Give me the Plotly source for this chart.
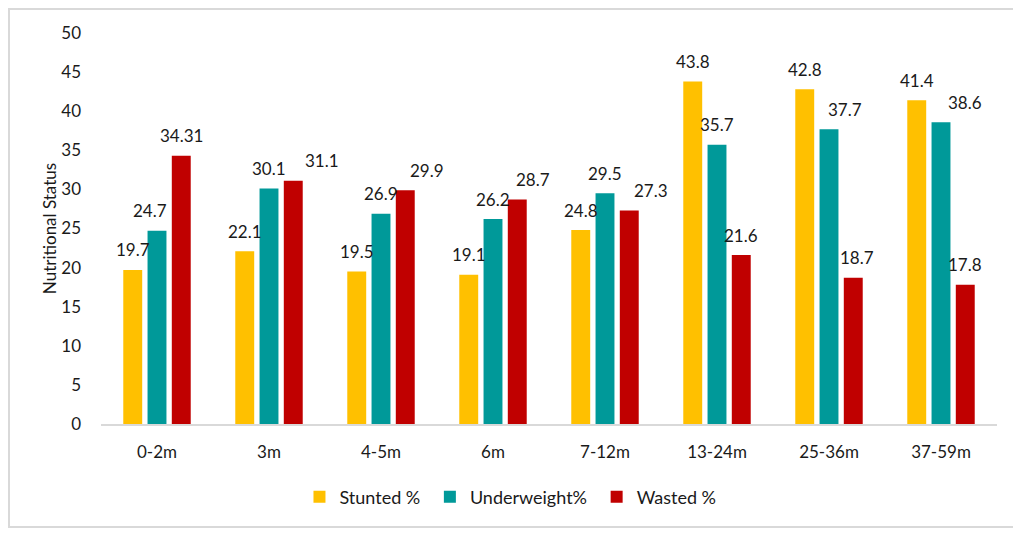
import plotly.graph_objects as go

categories = ["0-2m", "3m", "4-5m", "6m", "7-12m", "13-24m", "25-36m", "37-59m"]
stunted = [19.7, 22.1, 19.5, 19.1, 24.8, 43.8, 42.8, 41.4]
underweight = [24.7, 30.1, 26.9, 26.2, 29.5, 35.7, 37.7, 38.6]
wasted = [34.31, 31.1, 29.9, 28.7, 27.3, 21.6, 18.7, 17.8]
y_ticks = [0, 5, 10, 15, 20, 25, 30, 35, 40, 45, 50]

# horizontal nudges (px) of data labels, as placed in the original (to avoid overlap)
stunted_nudge = [0, 0, 0, 0, 0, 0, 0, 0]
underweight_nudge = [-7, 0, 0, 0, 0, 0, 16, 24]
wasted_nudge = [0, 29, 22, 16, 22, 0, 4, 0]

series = [
    ("Stunted %", stunted, "#FFC000", stunted_nudge),
    ("Underweight%", underweight, "#009999", underweight_nudge),
    ("Wasted %", wasted, "#C00000", wasted_nudge),
]

FONT = "Lato, Calibri, Carlito, sans-serif"
TXT = "#1a1a1a"
PAD = "\u00a0"

W, H = 1021, 535
L, R, T, B = 93, 32, 25, 119
BARGAP, GROUPGAP = 0.35, 0.22

plot_w = W - L - R
cat_w = plot_w / len(categories)
slot_w = cat_w * (1 - BARGAP) / len(series)

fig = go.Figure()
annotations = []
for i, (name, vals, color, nudge) in enumerate(series):
    fig.add_trace(go.Bar(
        x=categories, y=vals,
        name=name + (PAD if i < len(series) - 1 else ""),
        marker=dict(color=color, line=dict(width=0)),
    ))
    offset = (i - (len(series) - 1) / 2) * slot_w
    for c, v, n in zip(categories, vals, nudge):
        annotations.append(dict(
            x=c, y=v, xref="x", yref="y", text=str(v), showarrow=False,
            xanchor="center", yanchor="middle", xshift=offset + n, yshift=20,
            font=dict(family=FONT, size=17, color=TXT),
        ))

fig.update_layout(
    width=W, height=H,
    margin=dict(l=L, r=R, t=T, b=B, autoexpand=False),
    paper_bgcolor="white", plot_bgcolor="white",
    barmode="group", bargap=BARGAP, bargroupgap=GROUPGAP,
    font=dict(family=FONT, size=17, color=TXT),
    showlegend=True,
    legend=dict(orientation="h", x=0.457, xanchor="center", y=-0.187, yanchor="middle",
                font=dict(family=FONT, size=18, color=TXT),
                itemwidth=30, traceorder="normal"),
    xaxis=dict(showline=True, linecolor="#d9d9d9", linewidth=2, ticks="",
               showgrid=False, tickfont=dict(family=FONT, size=17),
               ticklabelstandoff=12),
    yaxis=dict(range=[0, 50], tickvals=y_ticks, showgrid=False, zeroline=False,
               showline=False, ticks="", tickfont=dict(family=FONT, size=17),
               ticklabelstandoff=19,
               title=dict(text="Nutritional Status", font=dict(family=FONT, size=17),
                          standoff=0)),
    annotations=annotations,
    shapes=[dict(type="rect", xref="paper", yref="paper",
                 x0=(1 - L) / plot_w, x1=(1006 - L) / plot_w,
                 y0=(H - B - 519) / (H - T - B), y1=(H - B - 1) / (H - T - B),
                 line=dict(color="#d9d9d9", width=2))],
)

fig.write_html("out.html")
